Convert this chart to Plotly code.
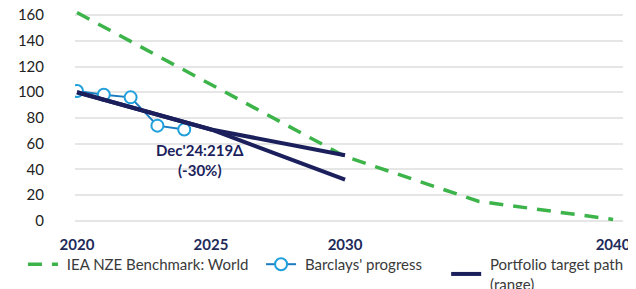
import plotly.graph_objects as go

iea_years = [2020, 2030, 2035, 2040]
iea_values = [162, 50, 15, 1]

prog_years = [2020, 2021, 2022, 2023, 2024]
prog_values = [101, 98, 96, 74, 71]

target_years = [2020, 2025, 2030]
target_upper = [100, 71, 51]
target_lower = [100, 71, 32]

x_ticks = [2020, 2025, 2030, 2040]
y_ticks = [0, 20, 40, 60, 80, 100, 120, 140, 160]

NAVY = "#1b1f5c"
GREEN = "#3cb44a"
BLUE = "#1f9fdc"
NB = "\u00a0"

fig = go.Figure()
fig.add_trace(go.Scatter(x=iea_years, y=iea_values, mode="lines",
                         name=NB + "IEA NZE Benchmark: World" + NB * 2,
                         line=dict(color=GREEN, width=3.5, dash="14px,10px")))
fig.add_trace(go.Scatter(x=prog_years, y=prog_values, mode="lines+markers",
                         name=NB + "Barclays' progress" + NB * 5,
                         line=dict(color="#1a7cc0", width=2),
                         marker=dict(size=12, color="white",
                                     line=dict(color=BLUE, width=2))))
fig.add_trace(go.Scatter(x=target_years, y=target_upper, mode="lines",
                         name=NB + "Portfolio target path<br>" + NB + "(range)",
                         line=dict(color=NAVY, width=4)))
fig.add_trace(go.Scatter(x=target_years, y=target_lower, mode="lines",
                         showlegend=False,
                         line=dict(color=NAVY, width=4)))

fig.add_annotation(x=2024.59, y=47, text="<b>Dec'24:219Δ<br>(-30%)</b>",
                   showarrow=False, font=dict(color=NAVY, size=15, family="Lato"))

fig.update_layout(
    width=628, height=281,
    margin=dict(l=67, r=13, t=2, b=67, autoexpand=False),
    paper_bgcolor="white", plot_bgcolor="white",
    font=dict(family="Lato", size=15, color="#222222"),
    showlegend=True,
    legend=dict(orientation="h", x=-0.095, xanchor="left", y=-0.245,
                yanchor="middle", font=dict(size=15, color="#3a3a3a"),
                bgcolor="rgba(0,0,0,0)", itemwidth=30),
)
fig.update_xaxes(range=[2019.925, 2040.37], tickvals=x_ticks,
                 ticktext=[f"<b>{v}</b>" for v in x_ticks],
                 tickfont=dict(color="#1e2a5a", size=15),
                 showgrid=False, zeroline=False, showline=False,
                 ticks="", ticklabelstandoff=12, ticklabeloverflow="allow")
fig.update_yaxes(range=[-1, 164], tickvals=y_ticks,
                 showgrid=True, gridcolor="#e6e6e6", gridwidth=2,
                 zeroline=False, showline=False, ticks="",
                 ticklabelstandoff=30, ticklabeloverflow="allow",
                 tickfont=dict(size=15, color="#222222"))

fig.write_html("out.html")
